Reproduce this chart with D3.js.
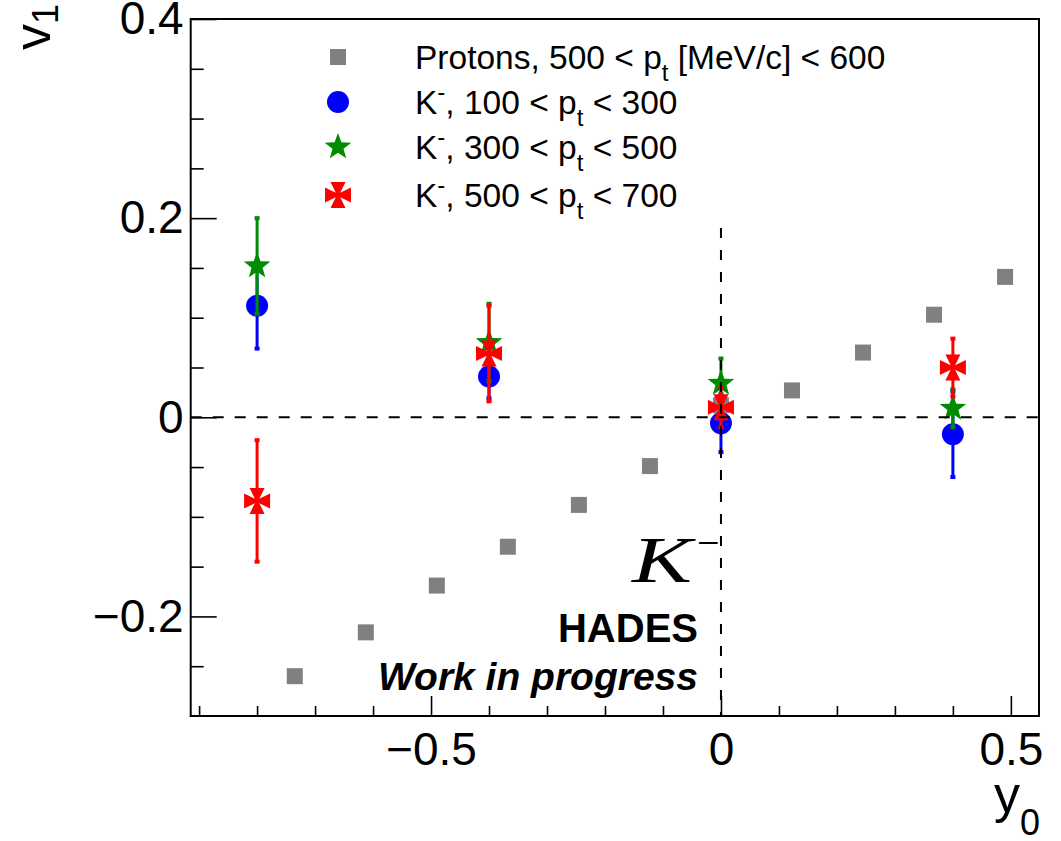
<!DOCTYPE html>
<html>
<head>
<meta charset="utf-8">
<script src="https://cdn.jsdelivr.net/npm/d3@7"></script>
<style>
  html, body { margin: 0; padding: 0; background: #fff; }
  svg { display: block; }
</style>
</head>
<body>
<svg id="chart" width="1061" height="841"></svg>
<script>
// ---------------- data ----------------
const protonY0 = [-0.735, -0.6125, -0.49, -0.3675, -0.245, -0.1225, 0.0, 0.1225, 0.245, 0.3675, 0.49];
const protonV1 = [-0.260, -0.216, -0.169, -0.130, -0.088, -0.049, 0.012, 0.027, 0.065, 0.103, 0.141];

const kaonY0 = [-0.8, -0.4, 0.0, 0.4];
const kLowV1   = [0.112, 0.041, -0.006, -0.017];
const kLowErr  = [0.043, 0.022, 0.029, 0.043];
const kMidV1   = [0.152, 0.075, 0.034, 0.009];
const kMidErr  = [0.048, 0.039, 0.025, 0.019];
const kHighV1  = [-0.084, 0.064, 0.010, 0.050];
const kHighErr = [0.061, 0.048, 0.020, 0.029];

const xMajorTicks = [-0.5, 0, 0.5];
const xMajorLabels = ["\u22120.5", "0", "0.5"];
const xMinorTicks = [-0.9, -0.8, -0.7, -0.6, -0.4, -0.3, -0.2, -0.1, 0.1, 0.2, 0.3, 0.4];
const yMajorTicks = [-0.2, 0, 0.2, 0.4];
const yMajorLabels = ["\u22120.2", "0", "0.2", "0.4"];
const yMinorTicks = [-0.25, -0.15, -0.1, -0.05, 0.05, 0.1, 0.15, 0.25, 0.3, 0.35];

const legendLabels = [
  {main: "Protons, 500 < p", sub: "t", rest: " [MeV/c] < 600", sup: null},
  {main: "K", sup: "-", mid: ", 100 < p", sub: "t", rest: " < 300"},
  {main: "K", sup: "-", mid: ", 300 < p", sub: "t", rest: " < 500"},
  {main: "K", sup: "-", mid: ", 500 < p", sub: "t", rest: " < 700"}
];
const xDomain = [-0.9145, 0.5485];
const yDomain = [-0.3, 0.4];
const vLineTop = 0.19;

// ---------------- layout ----------------
const SANS = "'Liberation Sans', Arial, Helvetica, sans-serif";
const SERIF = "'Liberation Serif', 'Times New Roman', serif";
const svg = d3.select("#chart").style("font-family", SANS);
const L = 190.7, R = 1039, T = 19, B = 716;
const x = d3.scaleLinear().domain(xDomain).range([L, R]);
const y = d3.scaleLinear().domain(yDomain).range([B, T]);

const colors = {proton: "#808080", low: "#0000ff", mid: "#008c00", high: "#ff0000"};

svg.append("rect").attr("width", 1061).attr("height", 841).attr("fill", "#fff");

// axes ticks (inward)
const gx = svg.append("g").attr("transform", `translate(0,${B})`);
gx.call(d3.axisBottom(x).tickValues(xMinorTicks).tickSizeInner(-10).tickSizeOuter(0).tickFormat(""));
const gx2 = svg.append("g").attr("transform", `translate(0,${B})`);
gx2.call(d3.axisBottom(x).tickValues(xMajorTicks).tickSizeInner(-20).tickSizeOuter(0)
  .tickPadding(16).tickFormat((d, i) => xMajorLabels[i]));
const gy = svg.append("g").attr("transform", `translate(${L},0)`);
gy.call(d3.axisLeft(y).tickValues(yMinorTicks).tickSizeInner(-13).tickSizeOuter(0).tickFormat(""));
const gy2 = svg.append("g").attr("transform", `translate(${L},0)`);
gy2.call(d3.axisLeft(y).tickValues(yMajorTicks).tickSizeInner(-26).tickSizeOuter(0)
  .tickPadding(7).tickFormat((d, i) => yMajorLabels[i]));
[gx, gx2, gy, gy2].forEach(g => {
  g.attr("font-family", null).attr("font-size", null);
  g.select(".domain").remove();
  g.selectAll(".tick line").attr("stroke", "#000").attr("stroke-width", 1.6);
  g.selectAll(".tick text").style("font-size", "46px").style("font-family", SANS).attr("fill", "#000");
});

// frame
svg.append("rect").attr("x", L).attr("y", T).attr("width", R - L).attr("height", B - T)
  .attr("fill", "none").attr("stroke", "#000").attr("stroke-width", 2);

// axis titles
svg.append("text").attr("x", 1040).attr("y", 812).attr("text-anchor", "end").style("font-size", "52px")
  .call(t => { t.append("tspan").text("y"); t.append("tspan").style("font-size", "36px").attr("dy", 23).text("0"); });
svg.append("text").attr("transform", "translate(50,4) rotate(-90)").attr("text-anchor", "end").style("font-size", "52px")
  .call(t => { t.append("tspan").text("v"); t.append("tspan").style("font-size", "36px").attr("dy", 8).text("1"); });

// marker shapes
function starPath(Ro, Ri) {
  const pts = [];
  for (let i = 0; i < 10; i++) {
    const r = i % 2 === 0 ? Ro : Ri;
    const a = -Math.PI / 2 + i * Math.PI / 5;
    pts.push([r * Math.cos(a), r * Math.sin(a)]);
  }
  return "M" + pts.map(p => p.join(",")).join("L") + "Z";
}
function crossPath(Ro, b, a) {
  const p = [[-b, -Ro], [b, -Ro], [a, -a], [Ro, -b], [Ro, b], [a, a], [b, Ro], [-b, Ro], [-a, a], [-Ro, b], [-Ro, -b], [-a, -a]];
  return "M" + p.map(q => q.join(",")).join("L") + "Z";
}
const STAR = starPath(14, 5.8);
const CROSS = crossPath(13, 7.5, 2.2);

function drawMarker(g, type, cx, cy, color) {
  if (type === "square") {
    g.append("rect").attr("x", cx - 8).attr("y", cy - 8).attr("width", 16).attr("height", 16).attr("fill", color);
  } else if (type === "circle") {
    g.append("circle").attr("cx", cx).attr("cy", cy).attr("r", 11).attr("fill", color);
  } else if (type === "star") {
    g.append("path").attr("d", STAR).attr("transform", `translate(${cx},${cy})`).attr("fill", color);
  } else {
    g.append("path").attr("d", CROSS).attr("transform", `translate(${cx},${cy})`).attr("fill", color);
  }
}

// protons
const gp = svg.append("g");
protonY0.forEach((d, i) => drawMarker(gp, "square", x(d), y(protonV1[i]), colors.proton));

// kaon series
const series = [
  {v: kLowV1, e: kLowErr, type: "circle", color: colors.low},
  {v: kMidV1, e: kMidErr, type: "star", color: colors.mid},
  {v: kHighV1, e: kHighErr, type: "cross", color: colors.high}
];
series.forEach(s => {
  const g = svg.append("g");
  kaonY0.forEach((d, i) => {
    const cx = x(d), y1 = y(s.v[i] + s.e[i]), y2 = y(s.v[i] - s.e[i]);
    g.append("line").attr("x1", cx).attr("x2", cx).attr("y1", y1).attr("y2", y2)
      .attr("stroke", s.color).attr("stroke-width", 3);
    [y1, y2].forEach(yy => g.append("rect").attr("x", cx - 2.5).attr("y", yy - 2).attr("width", 5).attr("height", 4).attr("fill", s.color));
    drawMarker(g, s.type, cx, y(s.v[i]), s.color);
  });
});

// dashed reference lines
svg.append("line").attr("x1", L).attr("x2", R).attr("y1", y(0)).attr("y2", y(0))
  .attr("stroke", "#000").attr("stroke-width", 2).attr("stroke-dasharray", "11,11");
svg.append("line").attr("x1", x(0)).attr("x2", x(0)).attr("y1", y(vLineTop)).attr("y2", B)
  .attr("stroke", "#000").attr("stroke-width", 2).attr("stroke-dasharray", "10,12");

// legend
const legTypes = ["square", "circle", "star", "cross"];
const legColors = [colors.proton, colors.low, colors.mid, colors.high];
const legRows = [57, 102, 147, 195];
const lg = svg.append("g");
legendLabels.forEach((lab, i) => {
  const cy = legRows[i];
  drawMarker(lg, legTypes[i], 338, cy, legColors[i]);
  const t = lg.append("text").attr("x", 415).attr("y", cy + 12).style("font-size", "33.5px");
  if (lab.sup) {
    t.append("tspan").text(lab.main);
    t.append("tspan").style("font-size", "24px").attr("dy", -14).text(lab.sup);
    t.append("tspan").attr("dy", 14).text(lab.mid);
  } else {
    t.append("tspan").text(lab.main);
  }
  t.append("tspan").style("font-size", "24px").attr("dy", 12).text(lab.sub);
  t.append("tspan").attr("dy", -12).text(lab.rest);
});

// annotations
svg.append("text").attr("x", 632).attr("y", 582).attr("textLength", 60).attr("lengthAdjust", "spacingAndGlyphs")
  .style("font-family", SERIF).style("font-style", "italic").style("font-size", "66px").text("K");
svg.append("text").attr("x", 697).attr("y", 556)
  .style("font-family", SERIF).style("font-size", "40px").text("\u2212");
svg.append("text").attr("x", 698).attr("y", 642).attr("text-anchor", "end").style("font-weight", "bold").style("font-size", "40px").text("HADES");
svg.append("text").attr("x", 698).attr("y", 690).attr("text-anchor", "end").style("font-weight", "bold").style("font-style", "italic").style("font-size", "39px").text("Work in progress");
</script>
</body>
</html>
